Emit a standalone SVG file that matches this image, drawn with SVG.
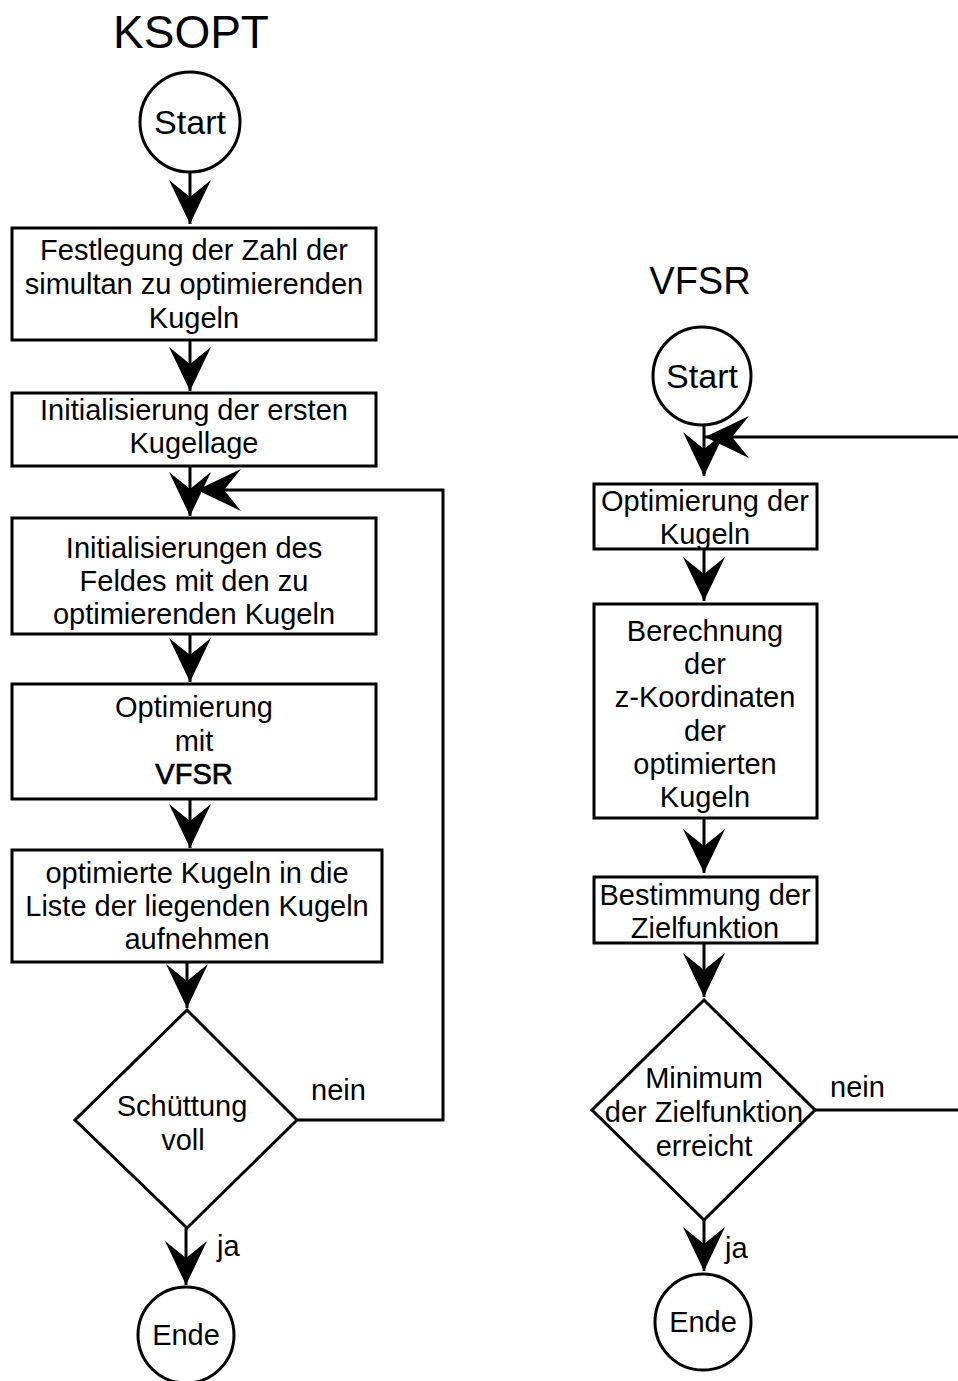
<svg xmlns="http://www.w3.org/2000/svg" width="958" height="1381" viewBox="0 0 958 1381">
<style>
  .shape { fill: #fff; stroke: #000; stroke-width: 3; }
  .edge { fill: none; stroke: #000; stroke-width: 3; }
  text { font-family: "Liberation Sans", Arial, sans-serif; fill: #000; text-anchor: middle; }
  .t { font-size: 29px; }
  .lbl { font-size: 29px; text-anchor: start; }
  .term { font-size: 34px; }
  .bold { stroke: #000; stroke-width: 0.7px; }
</style>
<defs>
  <marker id="ah" markerUnits="userSpaceOnUse" viewBox="-1 -23 47 46" markerWidth="47" markerHeight="46" refX="44" refY="0" orient="auto">
    <path d="M0,-21 L44,0 L0,21 L17,0 Z" fill="#000"/>
  </marker>
</defs>

<!-- Titles -->
<text id="title-ksopt" x="191" y="48" style="font-size:46px">KSOPT</text>
<text id="title-vfsr" x="700" y="294" style="font-size:38px">VFSR</text>

<!-- Connectors -->
<g id="connectors">
  <path class="edge" d="M190,172 V224" marker-end="url(#ah)"/>
  <path class="edge" d="M190,340 V391" marker-end="url(#ah)"/>
  <path class="edge" d="M190,466 V516" marker-end="url(#ah)"/>
  <path class="edge" d="M190,634 V682" marker-end="url(#ah)"/>
  <path class="edge" d="M190,799 V848" marker-end="url(#ah)"/>
  <path class="edge" d="M187,962 V1008" marker-end="url(#ah)"/>
  <path class="edge" d="M186,1228 V1285" marker-end="url(#ah)"/>
  <path class="edge" d="M297,1120 H443 V490 H197" marker-end="url(#ah)"/>

  <path class="edge" d="M704,425 V476" marker-end="url(#ah)"/>
  <path class="edge" d="M704,549 V601" marker-end="url(#ah)"/>
  <path class="edge" d="M704,818 V873" marker-end="url(#ah)"/>
  <path class="edge" d="M704,943 V997" marker-end="url(#ah)"/>
  <path class="edge" d="M704,1220 V1271" marker-end="url(#ah)"/>
  <path class="edge" d="M815,1110 H962 V437 H705" marker-end="url(#ah)"/>

  <text class="lbl" x="311" y="1100">nein</text>
  <text class="lbl" x="217" y="1256">ja</text>
  <text class="lbl" x="830" y="1097">nein</text>
  <text class="lbl" x="725" y="1258">ja</text>
</g>

<!-- KSOPT nodes -->
<g id="k-start">
  <circle class="shape" cx="190" cy="122" r="50"/>
  <text class="term" x="190" y="134">Start</text>
</g>
<g id="k-festlegung">
  <rect class="shape" x="12" y="228" width="364" height="112"/>
  <text class="t" x="194" y="260">Festlegung der Zahl der</text>
  <text class="t" x="194" y="294">simultan zu optimierenden</text>
  <text class="t" x="194" y="328">Kugeln</text>
</g>
<g id="k-init">
  <rect class="shape" x="12" y="393" width="364" height="73"/>
  <text class="t" x="194" y="420">Initialisierung der ersten</text>
  <text class="t" x="194" y="453">Kugellage</text>
</g>
<g id="k-feld">
  <rect class="shape" x="12" y="518" width="364" height="116"/>
  <text class="t" x="194" y="558">Initialisierungen des</text>
  <text class="t" x="194" y="591">Feldes mit den zu</text>
  <text class="t" x="194" y="624">optimierenden Kugeln</text>
</g>
<g id="k-opt">
  <rect class="shape" x="12" y="684" width="364" height="115"/>
  <text class="t" x="194" y="717">Optimierung</text>
  <text class="t" x="194" y="751">mit</text>
  <text class="t bold" x="194" y="784">VFSR</text>
</g>
<g id="k-liste">
  <rect class="shape" x="12" y="850" width="370" height="112"/>
  <text class="t" x="197" y="883">optimierte Kugeln in die</text>
  <text class="t" x="197" y="916">Liste der liegenden Kugeln</text>
  <text class="t" x="197" y="949">aufnehmen</text>
</g>
<g id="k-decision">
  <polygon class="shape" points="187,1010 297,1120 187,1228 75,1120"/>
  <text class="t" x="182" y="1116">Schüttung</text>
  <text class="t" x="183" y="1150">voll</text>
</g>
<g id="k-ende">
  <circle class="shape" cx="186" cy="1335" r="48"/>
  <text class="t" x="186" y="1345">Ende</text>
</g>

<!-- VFSR nodes -->
<g id="v-start">
  <circle class="shape" cx="702" cy="376" r="49"/>
  <text class="term" x="702" y="388">Start</text>
</g>
<g id="v-opt">
  <rect class="shape" x="594" y="484" width="223" height="65"/>
  <text class="t" x="705" y="511">Optimierung der</text>
  <text class="t" x="705" y="544">Kugeln</text>
</g>
<g id="v-berechnung">
  <rect class="shape" x="594" y="604" width="223" height="214"/>
  <text class="t" x="705" y="641">Berechnung</text>
  <text class="t" x="705" y="674">der</text>
  <text class="t" x="705" y="707">z-Koordinaten</text>
  <text class="t" x="705" y="741">der</text>
  <text class="t" x="705" y="774">optimierten</text>
  <text class="t" x="705" y="807">Kugeln</text>
</g>
<g id="v-bestimmung">
  <rect class="shape" x="594" y="877" width="223" height="66"/>
  <text class="t" x="705" y="905">Bestimmung der</text>
  <text class="t" x="705" y="938">Zielfunktion</text>
</g>
<g id="v-decision">
  <polygon class="shape" points="704,1000 815,1110 704,1220 592,1110"/>
  <text class="t" x="704" y="1088">Minimum</text>
  <text class="t" x="704" y="1122">der Zielfunktion</text>
  <text class="t" x="704" y="1156">erreicht</text>
</g>
<g id="v-ende">
  <circle class="shape" cx="703" cy="1322" r="48"/>
  <text class="t" x="703" y="1332">Ende</text>
</g>
</svg>
